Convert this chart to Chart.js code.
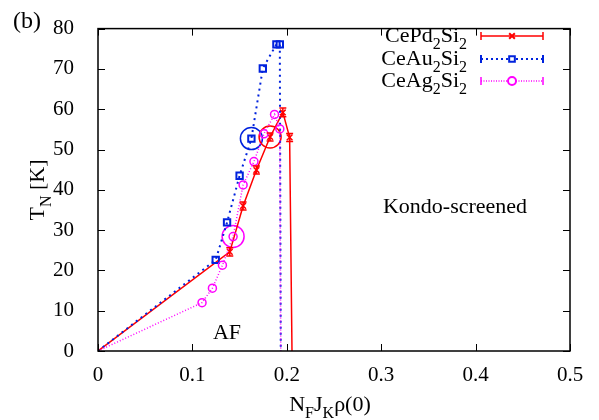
<!DOCTYPE html>
<html>
<head>
<meta charset="utf-8">
<script src="https://cdn.jsdelivr.net/npm/chart.js@4/dist/chart.umd.min.js"></script>
<style>
  body { margin: 0; background: #fff; }
  #wrap { width: 599px; height: 420px; }
</style>
</head>
<body>
<div id="wrap"><canvas id="myChart" width="599" height="420"></canvas></div>
<script>
// CePd2Si2
const pdX = [0, 0.1396, 0.1537, 0.1678, 0.1823, 0.1958, 0.2030, 0.2055];
const pdY = [0, 24.6, 36.0, 44.9, 53.1, 59.2, 53.0, 0];
const pdErr = [0, 1.0, 1.0, 1.0, 1.0, 1.1, 1.0, 0];
// CeAu2Si2
const auX = [0, 0.1247, 0.1367, 0.1500, 0.1625, 0.1746, 0.1890, 0.1926, 0.1936];
const auY = [0, 22.6, 31.9, 43.5, 52.7, 70.1, 76.1, 76.1, 0];
// CeAg2Si2
const agX = [0, 0.1102, 0.1212, 0.1318, 0.1431, 0.1537, 0.1652, 0.1758, 0.1870, 0.1926, 0.1936];
const agY = [0, 12.0, 15.6, 21.3, 28.4, 41.2, 47.0, 53.9, 58.7, 55.1, 0];
// circled points
const ringX = [0.1625, 0.1823, 0.1431];
const ringY = [52.7, 53.1, 28.4];

const xTicks = [0, 0.1, 0.2, 0.3, 0.4, 0.5];
const yTicks = [0, 10, 20, 30, 40, 50, 60, 70, 80];

const RED = "#ff0000";
const BLUE = "#0022dd";
const MAG = "#ff00ff";
const RING_COLORS = [BLUE, RED, MAG];
const SERIF = "'Liberation Serif', 'DejaVu Serif', serif";

function toPoints(xs, ys) {
  return xs.map((x, i) => ({ x: x, y: ys[i] }));
}
// no marker on first and last point (line ends)
function radii(xs, r) {
  return xs.map((x, i) => (i == 0 || i == xs.length - 1 ? 0 : r));
}

// draws text with subscripts, parts = [[text, isSub], ...]
function drawSub(ctx, parts, x, y, size, align) {
  const big = size + "px " + SERIF;
  const small = Math.round(size * 0.72) + "px " + SERIF;
  let w = 0;
  for (const p of parts) {
    ctx.font = p[1] ? small : big;
    w += ctx.measureText(p[0]).width;
  }
  let cx = x;
  if (align == "right") cx = x - w;
  if (align == "center") cx = x - w / 2;
  ctx.textAlign = "left";
  ctx.textBaseline = "alphabetic";
  for (const p of parts) {
    ctx.font = p[1] ? small : big;
    ctx.fillText(p[0], cx, p[1] ? y + size * 0.3 : y);
    cx += ctx.measureText(p[0]).width;
  }
}

const decor = {
  id: "decor",
  afterDatasetsDraw(chart) {
    const ctx = chart.ctx;
    const a = chart.chartArea;
    const xs = chart.scales.x;
    const ys = chart.scales.y;
    ctx.save();

    // error bars of CePd2Si2
    ctx.strokeStyle = RED;
    ctx.lineWidth = 1.5;
    for (let i = 0; i < pdX.length; i++) {
      if (!pdErr[i]) continue;
      const px = xs.getPixelForValue(pdX[i]);
      const y1 = ys.getPixelForValue(pdY[i] - pdErr[i]);
      const y2 = ys.getPixelForValue(pdY[i] + pdErr[i]);
      ctx.beginPath();
      ctx.moveTo(px, y1); ctx.lineTo(px, y2);
      ctx.moveTo(px - 3.5, y1); ctx.lineTo(px + 3.5, y1);
      ctx.moveTo(px - 3.5, y2); ctx.lineTo(px + 3.5, y2);
      ctx.stroke();
    }

    // frame and inward ticks
    ctx.strokeStyle = "#000";
    ctx.lineWidth = 1.5;
    ctx.strokeRect(a.left, a.top, a.right - a.left, a.bottom - a.top);
    ctx.lineWidth = 1;
    ctx.beginPath();
    for (const t of xTicks) {
      const px = Math.round(xs.getPixelForValue(t)) + 0.5;
      ctx.moveTo(px, a.bottom); ctx.lineTo(px, a.bottom - 7);
      ctx.moveTo(px, a.top); ctx.lineTo(px, a.top + 7);
    }
    for (const t of yTicks) {
      const py = Math.round(ys.getPixelForValue(t)) + 0.5;
      ctx.moveTo(a.left, py); ctx.lineTo(a.left + 7, py);
      ctx.moveTo(a.right, py); ctx.lineTo(a.right - 7, py);
    }
    ctx.stroke();

    // texts
    ctx.fillStyle = "#000";
    ctx.font = "24px " + SERIF;
    ctx.textAlign = "left";
    ctx.textBaseline = "alphabetic";
    ctx.fillText("(b)", 13, 28);
    ctx.font = "22px " + SERIF;
    ctx.textAlign = "center";
    ctx.fillText("AF", 227, 339);
    ctx.fillText("Kondo-screened", 455, 213);

    drawSub(ctx, [["N", 0], ["F", 1], ["J", 0], ["K", 1], ["\u03c1(0)", 0]], 330, 411, 22, "center");
    ctx.save();
    ctx.translate(44, 190);
    ctx.rotate(-Math.PI / 2);
    drawSub(ctx, [["T", 0], ["N", 1], [" [K]", 0]], 0, 0, 22, "center");
    ctx.restore();

    // legend
    const rows = [
      { parts: [["CePd", 0], ["2", 1], ["Si", 0], ["2", 1]], color: RED, dash: [], style: "crossRot", y: 36 },
      { parts: [["CeAu", 0], ["2", 1], ["Si", 0], ["2", 1]], color: BLUE, dash: [2, 3], style: "rect", y: 59 },
      { parts: [["CeAg", 0], ["2", 1], ["Si", 0], ["2", 1]], color: MAG, dash: [1, 1.5], style: "circle", y: 81 },
    ];
    for (const r of rows) {
      ctx.fillStyle = "#000";
      drawSub(ctx, r.parts, 467, r.y + 6, 22, "right");
      ctx.strokeStyle = r.color;
      ctx.lineWidth = r.style == "rect" ? 2 : 1.5;
      ctx.setLineDash(r.dash);
      ctx.beginPath();
      ctx.moveTo(481, r.y); ctx.lineTo(543, r.y);
      ctx.stroke();
      ctx.setLineDash([]);
      ctx.beginPath();
      ctx.moveTo(481, r.y - 4); ctx.lineTo(481, r.y + 4);
      ctx.moveTo(543, r.y - 4); ctx.lineTo(543, r.y + 4);
      ctx.stroke();
      ctx.lineWidth = 2;
      ctx.fillStyle = "#fff";
      Chart.helpers.drawPoint(ctx, { pointStyle: r.style, radius: 4, borderWidth: 2 }, 512, r.y);
    }
    ctx.restore();
  },
};

new Chart(document.getElementById("myChart").getContext("2d"), {
  type: "scatter",
  data: {
    datasets: [
      {
        label: "CeAg2Si2",
        data: toPoints(agX, agY),
        showLine: true,
        borderColor: MAG,
        borderWidth: 1.5,
        borderDash: [1, 2],
        pointStyle: "circle",
        pointRadius: radii(agX, 4),
        pointBorderWidth: 1.5,
        pointBorderColor: MAG,
        pointBackgroundColor: "rgba(0,0,0,0)",
      },
      {
        label: "CeAu2Si2",
        data: toPoints(auX, auY),
        showLine: true,
        borderColor: BLUE,
        borderWidth: 2,
        borderDash: [2, 4],
        pointStyle: "rect",
        pointRadius: radii(auX, 4.5),
        pointBorderWidth: 2,
        pointBorderColor: BLUE,
        pointBackgroundColor: "rgba(0,0,0,0)",
      },
      {
        label: "CePd2Si2",
        data: toPoints(pdX, pdY),
        showLine: true,
        borderColor: RED,
        borderWidth: 1.5,
        pointStyle: "crossRot",
        pointRadius: radii(pdX, 4),
        pointBorderWidth: 1.5,
        pointBorderColor: RED,
      },
      {
        label: "rings",
        data: toPoints(ringX, ringY),
        showLine: false,
        pointStyle: "circle",
        pointRadius: 11,
        pointBorderWidth: 1.5,
        pointBorderColor: RING_COLORS,
        pointBackgroundColor: "rgba(0,0,0,0)",
      },
    ],
  },
  options: {
    responsive: false,
    animation: false,
    devicePixelRatio: 1,
    layout: { padding: { left: 0, top: 18, right: 29, bottom: 0 } },
    plugins: { legend: { display: false }, tooltip: { enabled: false } },
    scales: {
      x: {
        type: "linear",
        min: 0,
        max: 0.5,
        grid: { display: false },
        border: { display: false },
        ticks: {
          stepSize: 0.1,
          padding: 4,
          color: "#000",
          font: { family: SERIF, size: 21 },
          callback: (v) => (v == 0 ? "0" : String(Math.round(v * 10) / 10)),
        },
        afterFit: (s) => { s.height = 69; },
      },
      y: {
        min: 0,
        max: 80,
        grid: { display: false },
        border: { display: false },
        ticks: {
          stepSize: 10,
          padding: 16,
          color: "#000",
          font: { family: SERIF, size: 21 },
        },
        afterFit: (s) => { s.width = 98; },
      },
    },
  },
  plugins: [decor],
});
</script>
</body>
</html>
